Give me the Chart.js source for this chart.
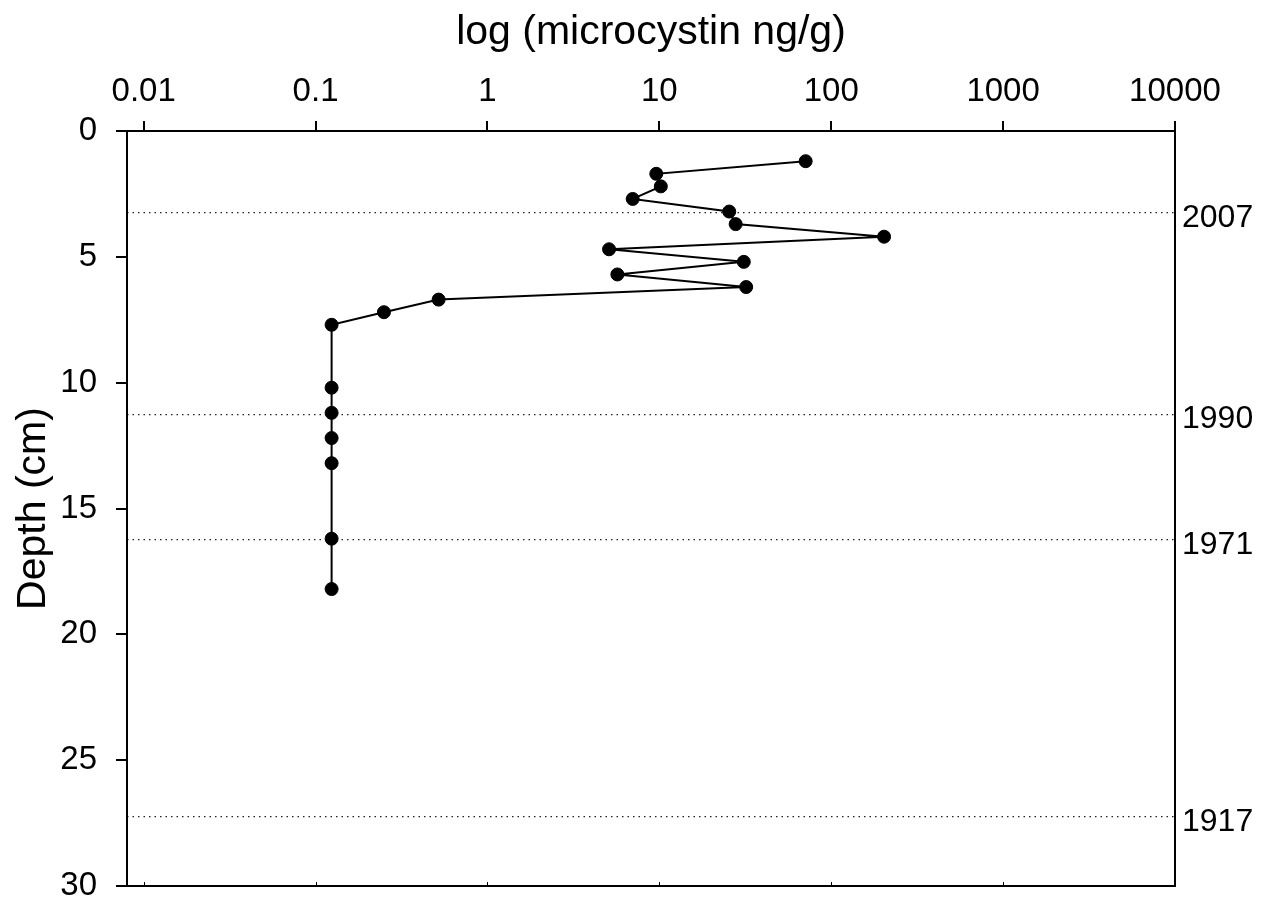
<!DOCTYPE html>
<html>
<head>
<meta charset="utf-8">
<script src="https://cdn.jsdelivr.net/npm/chart.js@4/dist/chart.umd.min.js"></script>
<style>
  body { margin: 0; background: #fff; }
</style>
</head>
<body>
<canvas id="core" width="1265" height="903"></canvas>
<script>
// sediment core samples
depthCm = [1.2, 1.7, 2.2, 2.7, 3.2, 3.7, 4.2, 4.7, 5.2, 5.7, 6.2, 6.7, 7.2, 7.7,
           10.2, 11.2, 12.2, 13.2, 16.2, 18.2];
microcystin = [71, 9.6, 10.2, 7.0, 25.5, 27.8, 203, 5.1, 31, 5.7, 32, 0.52, 0.25, 0.124,
               0.124, 0.124, 0.124, 0.124, 0.124, 0.124];

// dated horizons
datingDepths = [3.25, 11.25, 16.25, 27.25];
datingYears = ["2007", "1990", "1971", "1917"];

xTickValues = [0.01, 0.1, 1, 10, 100, 1000, 10000];
xTickLabels = ["0.01", "0.1", "1", "10", "100", "1000", "10000"];

const FONT = "'Liberation Sans', Arial, sans-serif";
Chart.defaults.color = "#000";
Chart.defaults.font.family = FONT;

const points = depthCm.map((d, i) => ({ x: microcystin[i], y: d }));

// keep the vertical axes from reserving room for overhanging labels
function fixVertical(width) {
     return s => {
          s.width = width;
          s.paddingTop = 0;
          s.paddingBottom = 0;
     };
}

// short inward ticks along the bottom edge
const bottomTicks = {
     id: "bottomTicks",
     afterDraw(chart) {
          const ctx = chart.ctx;
          const xs = chart.scales.x;
          const b = chart.chartArea.bottom;
          ctx.save();
          ctx.strokeStyle = "#000";
          ctx.lineWidth = 1;
          xTickValues.forEach(v => {
               const px = Math.round(xs.getPixelForValue(v)) + 0.5;
               ctx.beginPath();
               ctx.moveTo(px, b);
               ctx.lineTo(px, b - 4);
               ctx.stroke();
          });
          ctx.restore();
     }
};

new Chart("core", {
     type: "scatter",
     data: {
          datasets: [{
               data: points,
               showLine: true,
               tension: 0,
               borderColor: "#000",
               borderWidth: 2,
               pointRadius: 6.5,
               pointBorderWidth: 1,
               pointBackgroundColor: "#000",
               pointBorderColor: "#000",
               xAxisID: "x",
               yAxisID: "y"
          }]
     },
     options: {
          responsive: false,
          animation: false,
          layout: { padding: 0 },
          plugins: {
               legend: { display: false },
               tooltip: { enabled: false }
          },
          scales: {
               x: {
                    type: "logarithmic",
                    position: "top",
                    min: 0.008,
                    max: 10000,
                    afterBuildTicks: s => { s.ticks = xTickValues.map(v => ({ value: v })); },
                    afterFit: s => { s.height = 131; },
                    ticks: {
                         autoSkip: false,
                         maxRotation: 0,
                         padding: 9,
                         font: { size: 33 },
                         callback: (v, i) => xTickLabels[i]
                    },
                    grid: { drawOnChartArea: false, tickLength: 10, color: "#000", lineWidth: 2 },
                    border: { color: "#000", width: 2 },
                    title: {
                         display: true,
                         text: "log (microcystin ng/g)",
                         font: { size: 41 },
                         padding: { top: 8, bottom: 0 }
                    }
               },
               x2: {
                    type: "logarithmic",
                    position: "bottom",
                    min: 0.008,
                    max: 10000,
                    afterFit: s => { s.height = 17; },
                    ticks: { display: false },
                    grid: { display: false },
                    border: { color: "#000", width: 2 }
               },
               y: {
                    type: "linear",
                    position: "left",
                    reverse: true,
                    min: 0,
                    max: 30,
                    afterFit: fixVertical(127),
                    ticks: { stepSize: 5, padding: 19, font: { size: 33 } },
                    grid: { drawOnChartArea: false, tickLength: 11, color: "#000", lineWidth: 2 },
                    border: { color: "#000", width: 2 },
                    title: {
                         display: true,
                         text: "Depth (cm)",
                         font: { size: 41 },
                         padding: { top: 9, bottom: 0 }
                    }
               },
               y2: {
                    type: "linear",
                    position: "right",
                    reverse: true,
                    min: 0,
                    max: 30,
                    afterFit: fixVertical(90),
                    afterBuildTicks: s => { s.ticks = datingDepths.map(v => ({ value: v })); },
                    ticks: {
                         autoSkip: false,
                         padding: 7,
                         labelOffset: 5,
                         font: { size: 32 },
                         callback: (v, i) => datingYears[i]
                    },
                    grid: { drawTicks: false, color: "#222", lineWidth: 1.2 },
                    border: { color: "#000", width: 2, dash: [1.5, 4] }
               }
          }
     },
     plugins: [bottomTicks]
});
</script>
</body>
</html>
